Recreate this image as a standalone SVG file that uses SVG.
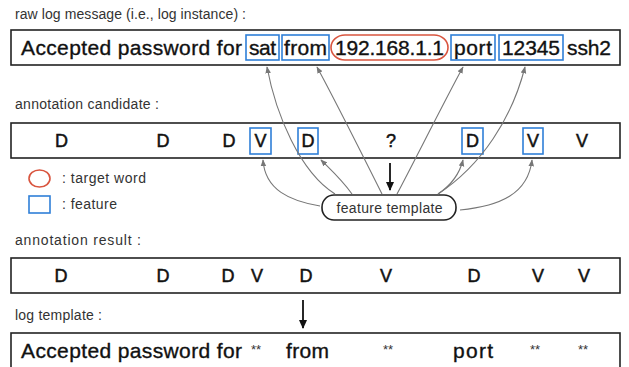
<svg xmlns="http://www.w3.org/2000/svg" width="629" height="367" viewBox="0 0 629 367">
<defs>
<style>
.lbl{font-family:"Liberation Sans",Arial,sans-serif;font-size:14px;fill:#333}
.big{font-family:"Liberation Sans",Arial,sans-serif;font-size:21px;fill:#111;stroke:#111;stroke-width:0.35}
.tag{font-family:"Liberation Sans",Arial,sans-serif;font-size:18px;fill:#111;stroke:#111;stroke-width:0.5;text-anchor:middle}
.ast{font-family:"Liberation Sans",Arial,sans-serif;font-size:13px;fill:#333;text-anchor:middle}
.box{fill:#fff;stroke:#222;stroke-width:1.6}
.feat{fill:none;stroke:#2f7fd8;stroke-width:1.6}
.tgt{fill:none;stroke:#d9553f;stroke-width:1.6}
.con{fill:none;stroke:#777;stroke-width:1.1;marker-end:url(#ga)}
.blk{fill:none;stroke:#111;stroke-width:1.8;marker-end:url(#ba)}
</style>
<marker id="ga" viewBox="0 0 10 10" refX="9" refY="5" markerWidth="7" markerHeight="7" markerUnits="userSpaceOnUse" orient="auto"><path d="M0,1 L10,5 L0,9 z" fill="#777"/></marker>
<marker id="ba" viewBox="0 0 10 10" refX="9" refY="5" markerWidth="9" markerHeight="9" markerUnits="userSpaceOnUse" orient="auto"><path d="M0,0.5 L10,5 L0,9.5 z" fill="#111"/></marker>
</defs>

<g id="label-raw"><text class="lbl" x="15" y="19" textLength="231">raw log message (i.e., log instance) :</text></g>

<g id="raw-log">
<rect class="box" x="11" y="30" width="609" height="35"/>
<text class="big" x="21" y="55" textLength="221">Accepted password for</text>
<text class="big" x="249" y="55" textLength="27">sat</text>
<text class="big" x="284" y="55" textLength="43">from</text>
<text class="big" x="335" y="55" textLength="109">192.168.1.1</text>
<text class="big" x="454" y="55" textLength="38">port</text>
<text class="big" x="502" y="55" textLength="58">12345</text>
<text class="big" x="567" y="55" textLength="44">ssh2</text>
<rect class="feat" x="246" y="35" width="33" height="25"/>
<rect class="feat" x="282" y="35" width="47" height="25"/>
<rect class="tgt" x="331" y="35" width="117" height="25" rx="14" ry="12.5"/>
<rect class="feat" x="451" y="35" width="44" height="25"/>
<rect class="feat" x="499" y="35" width="64" height="25"/>
</g>

<g id="label-cand"><text class="lbl" x="15" y="109" textLength="144">annotation candidate :</text></g>

<g id="candidate">
<rect class="box" x="11" y="123" width="609" height="35"/>
<text class="tag" x="61.5" y="147">D</text>
<text class="tag" x="163" y="147">D</text>
<text class="tag" x="229" y="147">D</text>
<text class="tag" x="260.5" y="147">V</text>
<text class="tag" x="308" y="147">D</text>
<text class="tag" x="391" y="147">?</text>
<text class="tag" x="472.5" y="147">D</text>
<text class="tag" x="533" y="147">V</text>
<text class="tag" x="582" y="147">V</text>
<rect class="feat" x="250" y="128" width="21" height="26"/>
<rect class="feat" x="298" y="128" width="20" height="26"/>
<rect class="feat" x="462" y="128" width="21" height="26"/>
<rect class="feat" x="523" y="128" width="20" height="26"/>
</g>

<g id="legend">
<ellipse class="tgt" cx="39.5" cy="178.5" rx="10.5" ry="8.5"/>
<text class="lbl" x="62" y="183" textLength="84">: target word</text>
<rect class="feat" x="29" y="196" width="21" height="17"/>
<text class="lbl" x="62" y="209" textLength="55">: feature</text>
</g>

<g id="feature-template">
<rect x="322" y="195" width="134" height="25" rx="12" ry="12" fill="#fff" stroke="#222" stroke-width="1.6"/>
<text class="lbl" x="389.5" y="212.5" text-anchor="middle" textLength="106" fill="#222">feature template</text>
</g>

<g id="label-result"><text class="lbl" x="15" y="245" textLength="126">annotation result :</text></g>

<g id="result">
<rect class="box" x="11" y="258" width="609" height="35"/>
<text class="tag" x="61" y="282">D</text>
<text class="tag" x="163" y="282">D</text>
<text class="tag" x="228" y="282">D</text>
<text class="tag" x="257" y="282">V</text>
<text class="tag" x="306" y="282">D</text>
<text class="tag" x="386" y="282">V</text>
<text class="tag" x="474" y="282">D</text>
<text class="tag" x="538" y="282">V</text>
<text class="tag" x="584" y="282">V</text>
</g>

<g id="label-template"><text class="lbl" x="15" y="320" textLength="87">log template :</text></g>

<g id="log-template">
<rect class="box" x="11" y="333" width="609" height="40"/>
<text class="big" x="21" y="358" textLength="221">Accepted password for</text>
<text class="ast" x="256" y="354">**</text>
<text class="big" x="286" y="358" textLength="43">from</text>
<text class="ast" x="388" y="354">**</text>
<text class="big" x="453" y="358" textLength="40">port</text>
<text class="ast" x="535" y="354">**</text>
<text class="ast" x="583" y="354">**</text>
</g>

<g id="connectors">
<path class="con" d="M335,194 C300,172 276,115 267,67"/>
<path class="con" d="M382,194 C365,160 336,102 317,67"/>
<path class="con" d="M397,194 C415,160 444,102 463,67"/>
<path class="con" d="M438,194 C482,165 512,118 525,67"/>
<path class="con" d="M320,206 C290,201 265,190 263,160"/>
<path class="con" d="M352,194 C342,180 331,170 321,160"/>
<path class="con" d="M438,194 C450,186 459,176 463,160"/>
<path class="con" d="M460,210 C500,206 528,194 532,160"/>
<path class="blk" d="M390,163 L390,190"/>
<path class="blk" d="M303,300 L303,328"/>
</g>
</svg>
